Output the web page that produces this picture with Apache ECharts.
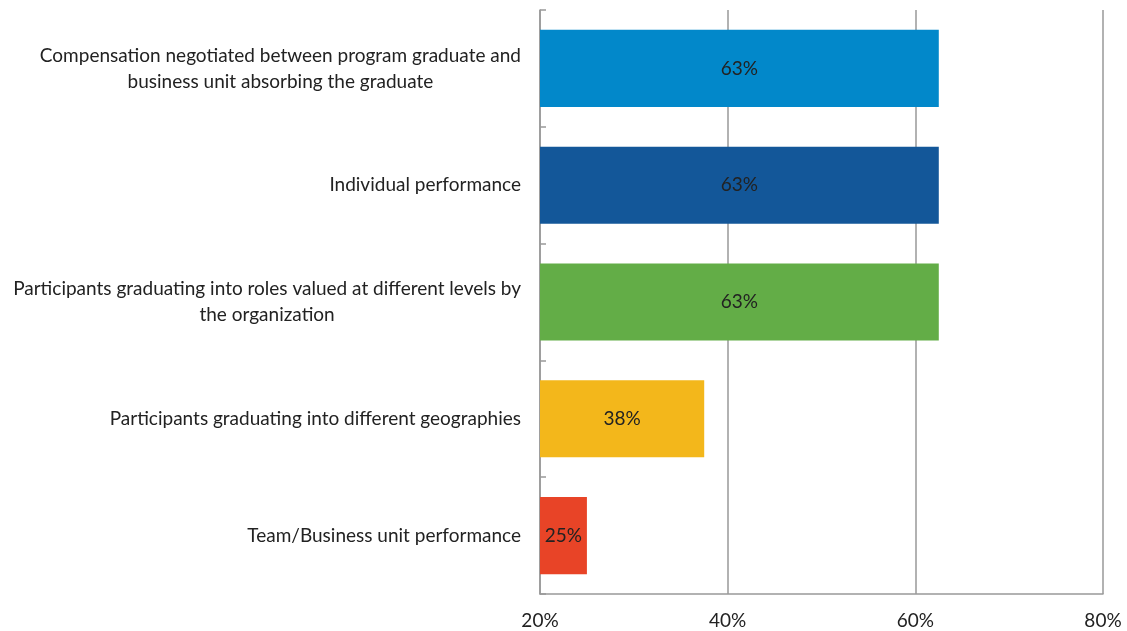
<!DOCTYPE html>
<html><head><meta charset="utf-8">
<script src="https://cdn.jsdelivr.net/npm/echarts@6/dist/echarts.min.js"></script>
<style>html,body{margin:0;padding:0;background:#fff}#c{width:1127px;height:631px}</style>
</head><body><div id="c"></div>
<script>
const categories = [
  "Compensation negotiated between program graduate and\nbusiness unit absorbing the graduate",
  "Individual performance",
  "Participants graduating into roles valued at different levels by\nthe organization",
  "Participants graduating into different geographies",
  "Team/Business unit performance"
];
const values = [62.5, 62.5, 62.5, 37.5, 25];
const colors = ["#0288CA", "#135799", "#63AD47", "#F3B71B", "#E84427"];
const xTicks = [20, 40, 60, 80];

const FONT = 'Lato';
const chart = echarts.init(document.getElementById('c'), null, {renderer: 'canvas'});
chart.setOption({
  animation: false,
  grid: {left: 540, right: 24, top: 10, bottom: 37, containLabel: false},
  xAxis: {
    type: 'value', min: xTicks[0], max: xTicks[xTicks.length - 1], interval: 20,
    axisLine: {show: true, lineStyle: {color: '#999', width: 1.5}},
    axisTick: {show: false},
    splitLine: {show: true, lineStyle: {color: '#999', width: 1.5}},
    axisLabel: {formatter: v => v + '%', color: '#222', fontFamily: FONT, fontSize: 19, margin: 17}
  },
  yAxis: {
    type: 'category', data: categories, inverse: true,
    axisLine: {show: true, lineStyle: {color: '#999', width: 1.5}},
    axisTick: {show: true, inside: true, length: 6, lineStyle: {color: '#999', width: 1.5}},
    axisLabel: {
      color: '#222', fontFamily: FONT, fontSize: 19, lineHeight: 26, margin: 19, align: 'right',
      formatter: v => v.split('\n').map(s => '{c|' + s + '}').join('\n'),
      rich: {c: {align: 'center', color: '#222', fontFamily: FONT, fontSize: 19, lineHeight: 26}}
    }
  },
  series: [{
    type: 'bar',
    barCategoryGap: '34%',
    data: values.map((v, i) => ({value: v, itemStyle: {color: colors[i]}})),
    label: {show: true, position: 'inside', color: '#222', fontFamily: FONT, fontSize: 19,
      formatter: p => Math.round(p.value) + '%'}
  }]
});
</script></body></html>
